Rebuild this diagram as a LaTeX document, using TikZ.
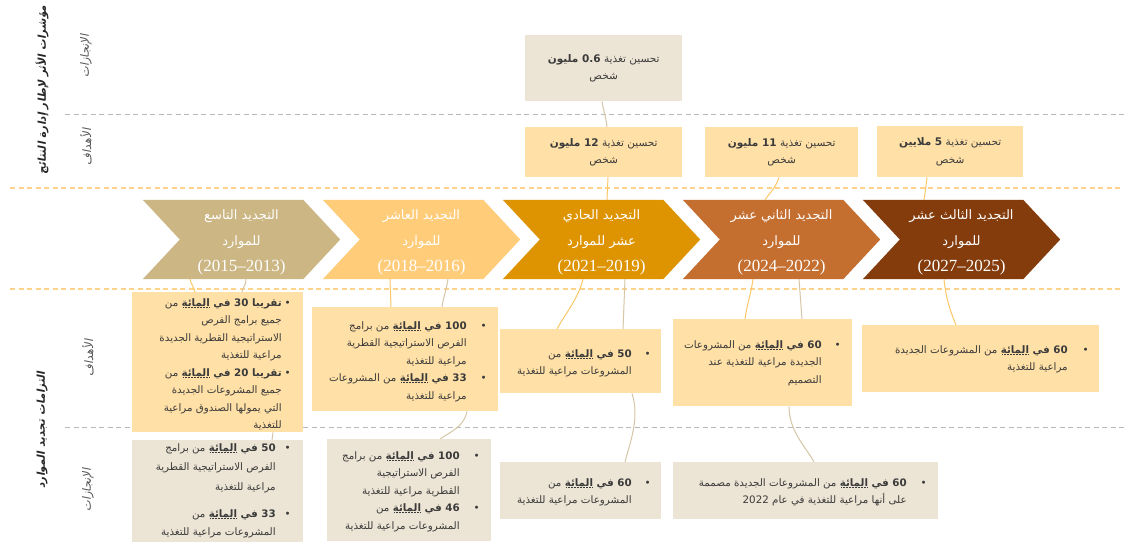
\documentclass[tikz,border=0pt]{standalone}
\usepackage{fontspec}
\TeXXeTstate=1
\newfontfamily\ar[Script=Arabic]{DejaVu Sans}
\newfontfamily\arsl[Script=Arabic,FakeSlant=0.2]{DejaVu Sans}
\newfontfamily\serif{Liberation Serif}
\usetikzlibrary{backgrounds}
\definecolor{c1}{HTML}{CBB684}
\definecolor{c2}{HTML}{FFCC7A}
\definecolor{c3}{HTML}{DE9400}
\definecolor{c4}{HTML}{C46E30}
\definecolor{c5}{HTML}{843C0C}
\definecolor{tgt}{HTML}{FFE0A6}
\definecolor{ach}{HTML}{ECE4D4}
\definecolor{lnor}{HTML}{FCC766}
\definecolor{lntan}{HTML}{D6C6A6}
\definecolor{txt}{HTML}{3B3B3B}
\definecolor{lbl}{HTML}{555555}
\definecolor{gdash}{HTML}{B8B8B8}
\definecolor{odash}{HTML}{FFD38A}
\definecolor{ulc}{HTML}{C0902A}
\newcommand\R[1]{\beginR #1\endR}
\newcommand\dul[1]{\setbox0\hbox{#1}\vtop{\copy0\kern0.6pt\hbox to\wd0{\color{ulc}\leaders\hbox to 1.5pt{\hss\vrule width 0.7pt height 0.7pt\hss}\hfill}}}
\newcommand\blt[2]{\begin{tabular}[t]{@{}r@{\hspace{#1}}c@{}}#2\end{tabular}}
\newcommand\yr[1]{{\serif\fontsize{17}{26}\selectfont #1}}
\begin{document}
\begin{tikzpicture}[x=1pt,y=-1pt,
  chev/.style={minimum width=197pt, minimum height=79pt, inner sep=0pt},
  chevtxt/.style={inner sep=0pt, align=center, text=white, font=\ar\fontsize{13}{26}\selectfont},
  box/.style={inner sep=0pt, anchor=north west, draw=none, align=center, text=txt, font=\ar\fontsize{10.5}{17.5}\selectfont},
  tbox/.style={box, fill=tgt},
  abox/.style={box, fill=ach},
  bl/.style={anchor=base east, inner sep=0pt, text=txt, font=\ar\fontsize{10.3}{17.5}\selectfont},
  lnO/.style={draw=lnor, line width=1pt},
  lnT/.style={draw=lntan, line width=1pt},
  gd/.style={draw=gdash, line width=0.8pt, dash pattern=on 5pt off 3.5pt},
  od/.style={draw=odash, line width=1.4pt, dash pattern=on 5pt off 3.5pt},
  side/.style={rotate=90, inner sep=0pt, text=lbl, font=\arsl\fontsize{11.5}{13}\selectfont},
  sidebig/.style={rotate=90, inner sep=0pt, text=black!85, font=\arsl\bfseries\fontsize{10.8}{13}\selectfont}]
\useasboundingbox (0,0) rectangle (1124,542);

% side labels
\node[sidebig] (l1) at (42,90) {\R{مؤشرات الأثر لإطار إدارة النتائج}};
\node[side] (l1a) at (86,56) {\R{الإنجازات}};
\node[side] (l1b) at (86,147) {\R{الأهداف}};
\node[sidebig] (l2) at (42,430) {\R{التزامات تجديد الموارد}};
\node[side] (l2a) at (88,358) {\R{الأهداف}};
\node[side] (l2b) at (88,490) {\R{الإنجازات}};

% chevrons (geometry nodes + text)
\node[chev] (ch1) at (241.5,239.5) {};
\node[chev] (ch2) at (421.5,239.5) {};
\node[chev] (ch3) at (601.5,239.5) {};
\node[chev] (ch4) at (781.5,239.5) {};
\node[chev] (ch5) at (961.5,239.5) {};
\node[chevtxt] (ch1t) at ([yshift=-3pt]ch1.center) {\R{التجديد التاسع}\\\R{للموارد}\\\yr{(2015–2013)}};
\node[chevtxt] (ch2t) at ([yshift=-3pt]ch2.center) {\R{التجديد العاشر}\\\R{للموارد}\\\yr{(2018–2016)}};
\node[chevtxt] (ch3t) at ([yshift=-3pt]ch3.center) {\R{التجديد الحادي}\\\R{عشر للموارد}\\\yr{(2021–2019)}};
\node[chevtxt] (ch4t) at ([yshift=-3pt]ch4.center) {\R{التجديد الثاني عشر}\\\R{للموارد}\\\yr{(2024–2022)}};
\node[chevtxt] (ch5t) at ([yshift=-3pt]ch5.center) {\R{التجديد الثالث عشر}\\\R{للموارد}\\\yr{(2027–2025)}};

% top boxes
\node[abox, minimum width=157pt, minimum height=66pt] (h0) at (525,35) {\R{تحسين تغذية \textbf{0.6 مليون}}\\\R{شخص}};
\node[tbox, minimum width=157pt, minimum height=50pt] (t1) at (525,127) {\R{تحسين تغذية \textbf{12 مليون}}\\\R{شخص}};
\node[tbox, minimum width=153pt, minimum height=50pt] (t2) at (705,127) {\R{تحسين تغذية \textbf{11 مليون}}\\\R{شخص}};
\node[tbox, minimum width=146pt, minimum height=51pt] (t3) at (877,126) {\R{تحسين تغذية \textbf{5 ملايين}}\\\R{شخص}};

% lower boxes
\node[tbox, minimum width=171pt, minimum height=140pt] (a1) at (132,292) {};
\node[abox, minimum width=171pt, minimum height=102pt] (b1) at (132,440) {};
\node[tbox, minimum width=186pt, minimum height=104pt] (a2) at (312,307) {};
\node[abox, minimum width=164pt, minimum height=102pt] (b2) at (327,439) {};
\node[tbox, minimum width=161pt, minimum height=64pt] (a3) at (500,329) {};
\node[abox, minimum width=161pt, minimum height=57pt] (b3) at (500,462) {};
\node[tbox, minimum width=179pt, minimum height=87pt] (a4) at (673,319) {};
\node[abox, minimum width=265pt, minimum height=57pt] (b4) at (673,462) {};
\node[tbox, minimum width=237pt, minimum height=67pt] (a5) at (862,325) {};

% box contents
\node[bl] (a1t) at (291,306) {\blt{3pt}{%
\R{\textbf{تقريبا 30 في \dul{المائة}} من} & •\\
\R{جميع برامج الفرص} & \\
\R{الاستراتيجية القطرية الجديدة} & \\
\R{مراعية للتغذية} & \\
\R{\textbf{تقريبا 20 في \dul{المائة}} من} & •\\
\R{جميع المشروعات الجديدة} & \\
\R{التي يمولها الصندوق مراعية} & \\
\R{للتغذية} & }};
\node[bl,font=\ar\fontsize{10.3}{19.5}\selectfont] (b1t) at (291,451) {\blt{9pt}{%
\R{\textbf{50 في \dul{المائة}} من برامج} & •\\
\R{الفرص الاستراتيجية القطرية} & \\
\R{مراعية للتغذية} & \\[8pt]
\R{\textbf{33 في \dul{المائة}} من} & •\\[-2pt]
\R{المشروعات مراعية للتغذية} & }};
\node[bl] (a2t) at (487,329) {\blt{14pt}{%
\R{\textbf{100 في \dul{المائة}} من برامج} & •\\
\R{الفرص الاستراتيجية القطرية} & \\
\R{مراعية للتغذية} & \\
\R{\textbf{33 في \dul{المائة}} من المشروعات} & •\\
\R{مراعية للتغذية} & }};
\node[bl] (b2t) at (480,459) {\blt{14pt}{%
\R{\textbf{100 في \dul{المائة}} من برامج} & •\\
\R{الفرص الاستراتيجية} & \\
\R{القطرية مراعية للتغذية} & \\
\R{\textbf{46 في \dul{المائة}} من} & •\\
\R{المشروعات مراعية للتغذية} & }};
\node[bl] (a3t) at (651,357) {\blt{13pt}{%
\R{\textbf{50 في \dul{المائة}} من} & •\\
\R{المشروعات مراعية للتغذية} & }};
\node[bl] (b3t) at (651,486) {\blt{13pt}{%
\R{\textbf{60 في \dul{المائة}} من} & •\\
\R{المشروعات مراعية للتغذية} & }};
\node[bl] (a4t) at (841,348) {\blt{13pt}{%
\R{\textbf{60 في \dul{المائة}} من المشروعات} & •\\
\R{الجديدة مراعية للتغذية عند} & \\
\R{التصميم} & }};
\node[bl] (b4t) at (927,486) {\blt{14pt}{%
\R{\textbf{60 في \dul{المائة}} من المشروعات الجديدة مصممة} & •\\
\R{على أنها مراعية للتغذية في عام 2022} & }};
\node[bl] (a5t) at (1089,353) {\blt{15pt}{%
\R{\textbf{60 في \dul{المائة}} من المشروعات الجديدة} & •\\
\R{مراعية للتغذية} & }};

\begin{pgfonlayer}{background}
\fill[white] (0,0) rectangle (1124,542);
% dashed separators
\draw[gd] (65,114) -- (1124,114);
\draw[gd] (65,427) -- (1124,427);
\draw[od] (10,188) -- (1124,188);
\draw[od] (10,289) -- (1124,289);
% chevron shapes
\foreach \n/\c in {ch1/c1,ch2/c2,ch3/c3,ch4/c4,ch5/c5}{
  \fill[\c] (\n.north west) -- ([xshift=-37pt]\n.north east) -- (\n.east) -- ([xshift=-37pt]\n.south east) -- (\n.south west) -- ([xshift=37pt]\n.west) -- cycle;
}
% top connectors
\draw[lnT] ([xshift=77pt]h0.south west) .. controls +(2,12) and +(-1,-10) .. ([xshift=82pt]t1.north west);
\draw[lnO] ([xshift=83pt]t1.south west) -- ([xshift=5.5pt]ch3.north);
\draw[lnO] ([xshift=74pt]t2.south west) .. controls +(-3,10) and +(4,-6) .. ([xshift=-16.5pt]ch4.north);
\draw[lnO] ([xshift=50pt]t3.south west) .. controls +(-1,8) and +(1,-6) .. ([xshift=-37.5pt]ch5.north);
% lower connectors
\draw[lnO] ([xshift=-51.5pt]ch1.south) .. controls +(1,5) and +(-1,-5) .. ([xshift=63pt]a1.north west);
\draw[lnT] ([xshift=4.5pt]ch1.south) .. controls +(0,6) and +(1,-5) .. ([xshift=110pt]a1.north west);
\draw[lnT] ([xshift=141pt]a1.south west) .. controls +(0,3) and +(0,-3) .. ([xshift=140pt]b1.north west);
\draw[lnO] ([xshift=-31.5pt]ch2.south) -- ([xshift=79pt]a2.north west);
\draw[lnT] ([xshift=26.5pt]ch2.south) .. controls +(-2,12) and +(1,-8) .. ([xshift=130pt]a2.north west);
\draw[lnT] ([xshift=155pt]a2.south west) .. controls +(-3,15) and +(12,-8) .. ([xshift=113pt]b2.north west);
\draw[lnO] ([xshift=-18.5pt]ch3.south) .. controls +(-5,20) and +(8,-15) .. ([xshift=57pt]a3.north west);
\draw[lnT] ([xshift=23.5pt]ch3.south) -- ([xshift=123pt]a3.north west);
\draw[lnT] ([xshift=132pt]a3.south west) .. controls +(8,25) and +(5,-20) .. ([xshift=125pt]b3.north west);
\draw[lnO] ([xshift=-28.5pt]ch4.south) .. controls +(-2,15) and +(2,-15) .. ([xshift=72pt]a4.north west);
\draw[lnT] ([xshift=17.5pt]ch4.south) -- ([xshift=129pt]a4.north west);
\draw[lnT] ([xshift=116pt]a4.south west) .. controls +(0,25) and +(-8,-15) .. ([xshift=141pt]b4.north west);
\draw[lnO] ([xshift=-17.5pt]ch5.south) .. controls +(2,20) and +(-5,-12) .. ([xshift=94pt]a5.north west);
\end{pgfonlayer}
\end{tikzpicture}
\end{document}
